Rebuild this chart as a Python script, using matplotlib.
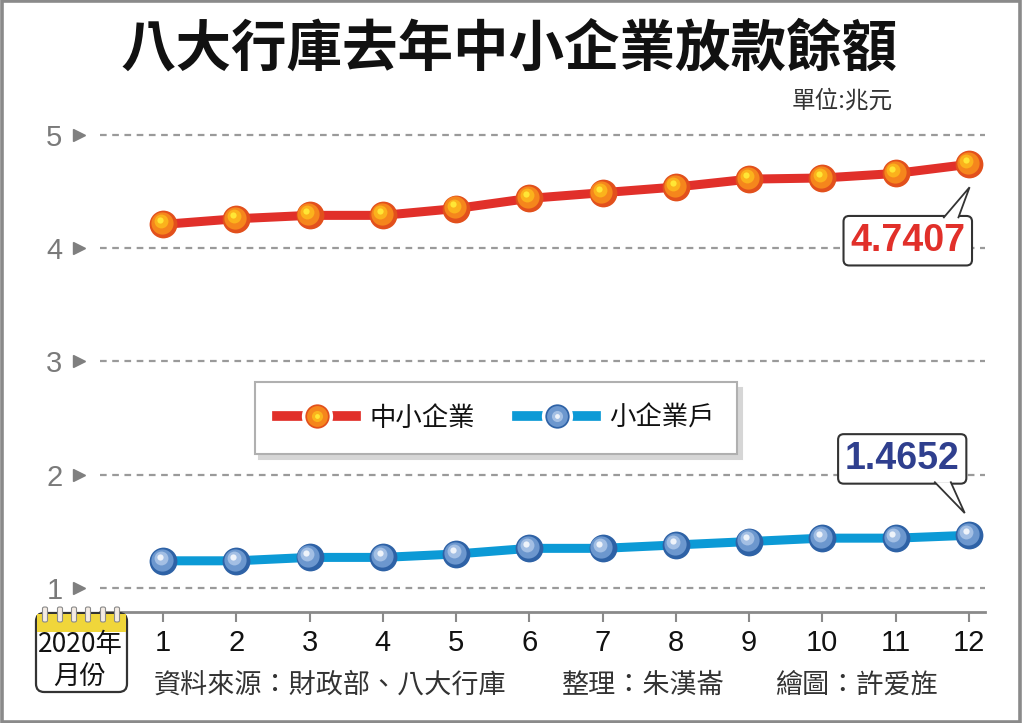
import matplotlib
matplotlib.use("Agg")
import matplotlib.pyplot as plt
from matplotlib.lines import Line2D
from matplotlib.patches import FancyBboxPatch, Rectangle, Polygon
from matplotlib.legend_handler import HandlerTuple
from matplotlib.transforms import offset_copy, blended_transform_factory, ScaledTranslation

# ---------------- data ----------------
months = [1, 2, 3, 4, 5, 6, 7, 8, 9, 10, 11, 12]
month_labels = ["1", "2", "3", "4", "5", "6", "7", "8", "9", "10", "11", "12"]
sme = [4.21, 4.26, 4.29, 4.29, 4.35, 4.44, 4.49, 4.54, 4.61, 4.62, 4.66, 4.7407]
small = [1.24, 1.24, 1.27, 1.27, 1.30, 1.35, 1.35, 1.38, 1.41, 1.44, 1.44, 1.4652]
yticks = [1, 2, 3, 4, 5]
series_names = ["中小企業", "小企業戶"]
title = "八大行庫去年中小企業放款餘額"
unit = "單位:兆元"
source = "資料來源：財政部、八大行庫"
editor = "整理：朱漢崙"
artist = "繪圖：許爱旌"

CJK = ["Noto Sans CJK TC", "DejaVu Sans"]
NUM = ["Liberation Sans", "DejaVu Sans"]
plt.rcParams["font.family"] = CJK

W, H = 1024, 723
fig = plt.figure(figsize=(W / 100, H / 100), dpi=100)
fig.patch.set_facecolor("white")


def fx(x):
    return x / W


def fy(y):
    return 1 - y / H


# axes: left 100px, right 985px, top 120px, bottom 612px
ax = fig.add_axes([fx(100), fy(612), fx(985) - fx(100), fy(120) - fy(612)])
ax.set_xlim(0.14, 12.22)
ax.set_ylim(0.788, 5.132)
ax.set_facecolor("none")

for s in ["left", "right", "top"]:
    ax.spines[s].set_visible(False)
ax.spines["bottom"].set_color("#8a8a8a")
ax.spines["bottom"].set_linewidth(2.0)

ax.set_xticks(months)
ax.set_xticklabels(month_labels, fontfamily=NUM, fontsize=21, color="#111111")
ax.tick_params(axis="x", length=7, width=1.5, color="#8a8a8a", pad=5)
ax.set_yticks(yticks)
ax.set_yticklabels([str(v) for v in yticks], fontfamily=NUM, fontsize=21, color="#7a7a7a")
ax.tick_params(axis="y", length=0, pad=27)
ax.grid(axis="y", color="#9a9a9a", linestyle=(0, (3, 2.5)), linewidth=1.6)
ax.set_axisbelow(True)

# tick triangles
tri_tr = blended_transform_factory(ax.transAxes, ax.transData)
ax.plot([-0.0237] * len(yticks), yticks, marker=">", linestyle="none",
        markersize=8, color="#7f7f7f", transform=tri_tr, clip_on=False)


def balls(xs, ys, cols, z):
    sizes = [20, 16, 10, 4.5]
    offs = [(0, 0), (-0.8, 0.8), (-1.8, 2.2), (-2.3, 3.0)]
    for c, s, (ox, oy) in zip(cols, sizes, offs):
        tr = offset_copy(ax.transData, fig=fig, x=ox, y=oy, units="points")
        ax.plot(xs, ys, marker="o", linestyle="none", markersize=s,
                markerfacecolor=c, markeredgewidth=0, transform=tr, zorder=z)


red = "#e1302a"
blue = "#0c9ad6"
orange_cols = ["#e2501c", "#f5861c", "#fbb21c", "#ffe635"]
blue_cols = ["#2e62a6", "#6c97ce", "#a3bfe4", "#eef3fa"]

ax.plot(months, sme, color=red, linewidth=6.5, solid_capstyle="round", zorder=3)
balls(months, sme, orange_cols, 4)
ax.plot(months, small, color=blue, linewidth=6.5, solid_capstyle="round", zorder=3)
balls(months, small, blue_cols, 4)


# annotations (callout boxes with speech-bubble pointers)
def callout(x, y, label, color, dx, dy, base, tip):
    ax.annotate(label, xy=(x, y), xytext=(dx, dy),
                textcoords="offset points", ha="center", va="center",
                fontfamily=NUM, fontweight="bold",
                fontsize=27, color=color, zorder=6,
                bbox=dict(boxstyle="round,pad=0.18,rounding_size=0.15", fc="white",
                          ec="#333333", lw=1.5))
    tr = fig.dpi_scale_trans + ScaledTranslation(x, y, ax.transData)
    pts = [(base[0][0] / 72, base[0][1] / 72), (tip[0] / 72, tip[1] / 72),
           (base[1][0] / 72, base[1][1] / 72)]
    ax.add_patch(Polygon(pts, closed=True, fc="white", ec="none", transform=tr,
                         zorder=7, clip_on=False))
    ax.add_line(Line2D([p[0] for p in pts], [p[1] for p in pts], color="#333333",
                       lw=1.3, transform=tr, zorder=8, clip_on=False,
                       solid_joinstyle="miter"))


callout(months[-1], sme[-1], f"{sme[-1]:.4f}", red, -44, -55,
        [(-18, -38.2), (-7.5, -38.2)], (0.5, -16.5))
callout(months[-1], small[-1], f"{small[-1]:.4f}", "#2f3f8e", -48, 55,
        [(-24.5, 38.2), (-13, 38.2)], (-3, 16))


# legend
def legend_handle(lc, cols):
    line = Line2D([], [], color=lc, linewidth=7, marker="o", markersize=20,
                  markerfacecolor=cols[0], markeredgecolor="white", markeredgewidth=2.5)
    m2 = Line2D([], [], linestyle="none", marker="o", markersize=15,
                markerfacecolor=cols[1], markeredgewidth=0)
    m3 = Line2D([], [], linestyle="none", marker="o", markersize=8,
                markerfacecolor=cols[2], markeredgewidth=0)
    m4 = Line2D([], [], linestyle="none", marker="o", markersize=3.5,
                markerfacecolor=cols[3], markeredgewidth=0)
    return (line, m2, m3, m4)


handles = [legend_handle(red, orange_cols), legend_handle(blue, blue_cols)]
leg = fig.legend(handles, series_names, loc="center",
                 bbox_to_anchor=(fx(496), fy(418)), ncol=2, fontsize=19,
                 handler_map={tuple: HandlerTuple(ndivide=1, pad=0)},
                 handlelength=3.0, handletextpad=0.5, columnspacing=1.6,
                 borderpad=0.85, borderaxespad=0, fancybox=False, framealpha=1,
                 edgecolor="#b0b0b0",
                 shadow={"ox": 3, "oy": -4, "color": "#d6d6d6", "alpha": 1})
leg.get_frame().set_linewidth(1.5)
for t in leg.get_texts():
    t.set_color("#111111")

# titles and notes
fig.text(fx(509), fy(50), title, ha="center", va="center", fontsize=40,
         fontweight="bold", color="#111111")
fig.text(fx(893), fy(101), unit, ha="right", va="center", fontsize=17,
         color="#333333")
fig.text(fx(154), fy(685), source, ha="left", va="center", fontsize=19.5, color="#333333")
fig.text(fx(562), fy(685), editor, ha="left", va="center", fontsize=19.5, color="#333333")
fig.text(fx(775), fy(685), artist, ha="left", va="center", fontsize=19.5, color="#333333")

# calendar icon
body = FancyBboxPatch((fx(36), fy(692)), fx(127) - fx(36), fy(613) - fy(692),
                      boxstyle="round,pad=0,rounding_size=0.008",
                      transform=fig.transFigure, fc="white", ec="#333333", lw=1.6,
                      zorder=10, mutation_aspect=W / H)
fig.add_artist(body)
band = Rectangle((fx(37), fy(632)), fx(126) - fx(37), fy(614) - fy(632),
                 transform=fig.transFigure, fc="#f0d63a", ec="none", zorder=11)
fig.add_artist(band)
for rx in [45, 60, 74, 88, 103, 117]:
    ring = FancyBboxPatch((fx(rx - 2.5), fy(622)), fx(5), fy(607) - fy(622),
                          boxstyle="round,pad=0,rounding_size=0.002",
                          transform=fig.transFigure, fc="#f4ece4", ec="#8a8a8a",
                          lw=0.8, zorder=12)
    fig.add_artist(ring)
fig.text(fx(80), fy(645), "2020年", ha="center", va="center", fontsize=19,
         color="#111111", zorder=13)
fig.text(fx(80), fy(676), "月份", ha="center", va="center", fontsize=19,
         color="#111111", zorder=13)

# outer frame
fig.add_artist(Rectangle((0.0015, 0.002), 0.995, 0.996, transform=fig.transFigure,
                         fill=False, ec="#8a8a8a", lw=2.6, zorder=20))

fig.savefig("out.png", dpi=100)
